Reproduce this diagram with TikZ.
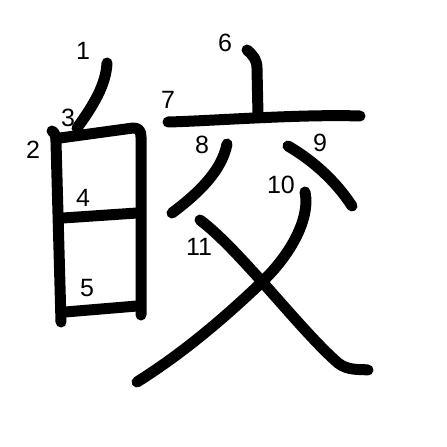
\documentclass[tikz,border=0pt]{standalone}
\usepackage{fontspec}
\setmainfont{Liberation Sans}
\begin{document}
\begin{tikzpicture}[x=1pt,y=-1pt,
  stroke/.style={line width=11pt,line cap=round,line join=round},
  num/.style={font=\fontsize{25}{25}\selectfont,inner sep=0pt}]
\useasboundingbox[fill=white] (0,0) rectangle (447,447);
% strokes
\draw[stroke] (107,63) .. controls (106,85) and (93,106) .. (77,128);
\draw[stroke] (52,131) .. controls (55,133) and (56,136) .. (56,142) -- (61,322);
\draw[stroke] (60,138) -- (133,128) .. controls (139,128) and (141,131) .. (141,137) -- (141,315);
\draw[stroke] (63,218) -- (137,213);
\draw[stroke] (65,312) -- (137,306);
\draw[stroke] (247,50) .. controls (253,55) and (257,60) .. (257,68) -- (258,115);
\draw[stroke] (168,122) .. controls (210,121) and (300,114) .. (360,116);
\draw[stroke] (227,144) .. controls (222,170) and (200,192) .. (172,213);
\draw[stroke] (288,146) .. controls (312,160) and (335,180) .. (352,206);
\draw[stroke] (305,192) .. controls (310,215) and (295,250) .. (262,282) .. controls (220,322) and (180,355) .. (137,382);
\draw[stroke] (200,220) .. controls (240,250) and (300,330) .. (338,363) .. controls (348,371) and (360,369) .. (368,370);
% labels
\node[num] (n1) at (83,51) {1};
\node[num] (n2) at (33,150) {2};
\node[num] (n3) at (68,118) {3};
\node[num] (n4) at (83,198) {4};
\node[num] (n5) at (87,288) {5};
\node[num] (n6) at (225,43) {6};
\node[num] (n7) at (168,100) {7};
\node[num] (n8) at (202,145) {8};
\node[num] (n9) at (320,143) {9};
\node[num] (n10) at (281,185) {10};
\node[num] (n11) at (199,247) {11};
\end{tikzpicture}
\end{document}
